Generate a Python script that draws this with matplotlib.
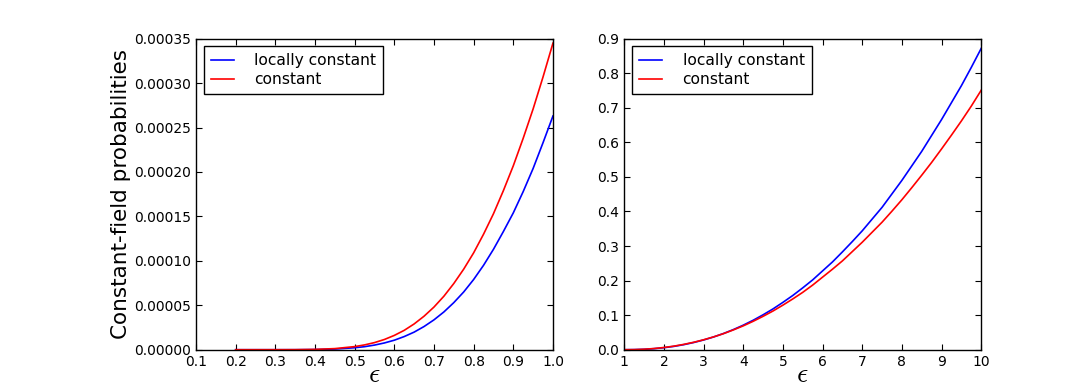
import numpy as np
import matplotlib
matplotlib.use('Agg')
import matplotlib.pyplot as plt

# eps grid and probabilities (units of 1e-5)
eps_low = [0.20, 0.25, 0.30, 0.35, 0.40, 0.45, 0.50, 0.525, 0.55, 0.575,
           0.60, 0.625, 0.65, 0.675, 0.70, 0.725, 0.75, 0.775, 0.80, 0.825,
           0.85, 0.875, 0.90, 0.925, 0.95, 0.975, 1.00]
local_low = [0.0, 0.0, 0.0, 0.002, 0.02, 0.074, 0.22, 0.34, 0.52, 0.76,
             1.07, 1.48, 1.98, 2.61, 3.36, 4.25, 5.30, 6.50, 7.90, 9.50,
             11.3, 13.3, 15.4, 17.8, 20.4, 23.3, 26.3]
const_low = [0.0, 0.0, 0.001, 0.006, 0.035, 0.125, 0.35, 0.54, 0.80, 1.15,
             1.61, 2.18, 2.90, 3.77, 4.80, 6.02, 7.45, 9.07, 10.9, 13.0,
             15.3, 17.9, 20.7, 23.8, 27.1, 30.7, 34.5]

# right panel
eps_high = [1.0, 1.25, 1.5, 1.75, 2.0, 2.25, 2.5, 2.75, 3.0, 3.25,
            3.5, 3.75, 4.0, 4.25, 4.5, 4.75, 5.0, 5.25, 5.5, 5.75,
            6.0, 6.25, 6.5, 6.75, 7.0, 7.25, 7.5, 7.75, 8.0, 8.25,
            8.5, 8.75, 9.0, 9.25, 9.5, 9.75, 10.0]
local_high = [0.0, 0.0003, 0.0012, 0.0030, 0.0058, 0.0096, 0.0146, 0.0208, 0.0282, 0.0368,
              0.0468, 0.0582, 0.0710, 0.0852, 0.101, 0.118, 0.137, 0.157, 0.179, 0.202,
              0.228, 0.254, 0.283, 0.313, 0.344, 0.378, 0.412, 0.451, 0.490, 0.532,
              0.574, 0.620, 0.666, 0.715, 0.764, 0.817, 0.872]
const_high = [0.0, 0.0003, 0.0014, 0.0034, 0.0064, 0.0103, 0.0154, 0.0215, 0.0287, 0.0370,
              0.0464, 0.0572, 0.0690, 0.0822, 0.0966, 0.112, 0.129, 0.147, 0.166, 0.187,
              0.210, 0.233, 0.257, 0.284, 0.311, 0.340, 0.369, 0.401, 0.434, 0.469,
              0.505, 0.542, 0.581, 0.621, 0.662, 0.705, 0.751]

plt.rcParams['font.family'] = 'DejaVu Sans'
plt.rcParams['mathtext.fontset'] = 'cm'
plt.rcParams['xtick.direction'] = 'in'
plt.rcParams['ytick.direction'] = 'in'
plt.rcParams['xtick.top'] = True
plt.rcParams['ytick.right'] = True
plt.rcParams['xtick.major.size'] = 4
plt.rcParams['ytick.major.size'] = 4
plt.rcParams['xtick.labelsize'] = 10
plt.rcParams['ytick.labelsize'] = 10

fig = plt.figure(figsize=(10.9, 3.89), dpi=100)
ax1 = fig.add_axes([0.1798, 0.101, 0.3275, 0.7995])
ax2 = fig.add_axes([0.5727, 0.101, 0.3275, 0.7995])

ax1.plot(eps_low, np.array(local_low) * 1e-5, color='#0000ff', lw=1.2, label='locally constant')
ax1.plot(eps_low, np.array(const_low) * 1e-5, color='#ff0000', lw=1.2, label='constant')
ax1.set_xlim(0.1, 1.0)
ax1.set_ylim(0, 0.00035)
ax1.set_xticks(np.arange(0.1, 1.01, 0.1))
ax1.set_yticks(np.arange(0, 0.000351, 0.00005))
ax1.yaxis.set_major_formatter(matplotlib.ticker.FormatStrFormatter('%.5f'))
ax1.xaxis.set_major_formatter(matplotlib.ticker.FormatStrFormatter('%.1f'))
ax1.set_ylabel('Constant-field probabilities', fontsize=15.5, labelpad=2)
ax1.set_xlabel(r'$\epsilon$', fontsize=20, labelpad=-6)

ax2.plot(eps_high, local_high, color='#0000ff', lw=1.2, label='locally constant')
ax2.plot(eps_high, const_high, color='#ff0000', lw=1.2, label='constant')
ax2.set_xlim(1, 10)
ax2.set_ylim(0, 0.9)
ax2.set_xticks(range(1, 11))
ax2.set_yticks(np.arange(0, 0.91, 0.1))
ax2.yaxis.set_major_formatter(matplotlib.ticker.FormatStrFormatter('%.1f'))
ax2.set_xlabel(r'$\epsilon$', fontsize=20, labelpad=-6)

for ax in (ax1, ax2):
    for sp in ax.spines.values():
        sp.set_linewidth(1.0)
    leg = ax.legend(loc='upper left', fontsize=11.2, fancybox=False, framealpha=1,
                    edgecolor='black', handlelength=1.5, handletextpad=1.3,
                    labelspacing=0.25, borderpad=0.45, borderaxespad=0.5)
    leg.get_frame().set_linewidth(1.0)

fig.savefig('out.png', dpi=100)
